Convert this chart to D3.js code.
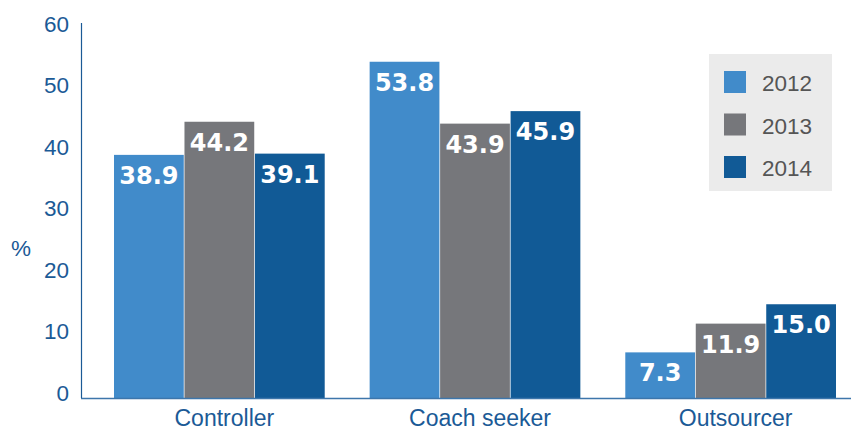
<!DOCTYPE html>
<html>
<head>
<meta charset="utf-8">
<script src="https://cdn.jsdelivr.net/npm/d3@7"></script>
<style>
  html, body { margin: 0; padding: 0; background: #fff; }
  svg { display: block; }
</style>
</head>
<body>
<svg id="chart" width="851" height="427"></svg>
<script>
// Share of respondents by profile type, per survey year (%)
const categories = ["Controller", "Coach seeker", "Outsourcer"];
const years = ["2012", "2013", "2014"];
const values2012 = [38.9, 53.8, 7.3];
const values2013 = [44.2, 43.9, 11.9];
const values2014 = [39.1, 45.9, 15.0];
const yTicks = [0, 10, 20, 30, 40, 50, 60];
const yLabel = "%";

const seriesValues = [values2012, values2013, values2014];
const colors = ["#418bca", "#76777b", "#115a96"];
const axisColor = "#1b5a96";

const svg = d3.select("#chart");

const x0 = 81, yTop = 23, yBase = 398;

const x = d3.scaleBand()
  .domain(categories)
  .range([114, 836])
  .paddingInner(45 / 256)
  .paddingOuter(0);

const xs = d3.scaleBand()
  .domain(years)
  .range([0, x.bandwidth()])
  .paddingInner(0.01);

const y = d3.scaleLinear().domain([0, 60]).range([yBase, yTop]);
// tick labels sit slightly above the gridline positions
const yText = d3.scaleLinear().domain([0, 60]).range([yBase - 6, yTop]);

// flatten into rows for drawing
const rows = [];
categories.forEach((c, i) => {
  years.forEach((yr, j) => {
    rows.push({ cat: c, year: yr, value: seriesValues[j][i], color: colors[j] });
  });
});

// bars
svg.append("g").selectAll("rect")
  .data(rows)
  .join("rect")
  .attr("x", d => x(d.cat) + xs(d.year))
  .attr("y", d => y(d.value))
  .attr("width", xs.bandwidth())
  .attr("height", d => y(0) - y(d.value))
  .attr("fill", d => d.color);

// value labels inside bar tops
svg.append("g").selectAll("text")
  .data(rows)
  .join("text")
  .attr("x", d => x(d.cat) + xs(d.year) + xs.bandwidth() / 2)
  .attr("y", d => y(d.value) + 29)
  .attr("text-anchor", "middle")
  .attr("fill", "#ffffff")
  .attr("font-family", "'DejaVu Sans', sans-serif")
  .attr("font-weight", "bold")
  .attr("font-size", 24)
  .text(d => d.value.toFixed(1));

// baseline
svg.append("line")
  .attr("x1", x0).attr("x2", 851)
  .attr("y1", yBase + 0.5).attr("y2", yBase + 0.5)
  .attr("stroke", "#3d76ab").attr("stroke-width", 1.5);

// vertical axis line
svg.append("line")
  .attr("x1", x0 + 0.5).attr("x2", x0 + 0.5)
  .attr("y1", yTop).attr("y2", yBase)
  .attr("stroke", axisColor).attr("stroke-width", 1.2);

// y tick labels
const yAxis = svg.append("g")
  .attr("transform", `translate(${x0 - 12},0)`)
  .call(d3.axisLeft(yText).tickValues(yTicks).tickSize(0).tickPadding(0).tickFormat(d3.format("d")));
yAxis.select(".domain").remove();
yAxis.selectAll("text")
  .attr("fill", axisColor)
  .attr("font-family", "'Liberation Sans', Arial, sans-serif")
  .attr("font-size", 22.5)
  .attr("dy", "0.36em");

// y axis title
svg.append("text")
  .attr("x", 21).attr("y", 256)
  .attr("text-anchor", "middle")
  .attr("fill", axisColor)
  .attr("font-family", "'Liberation Sans', Arial, sans-serif")
  .attr("font-size", 22.5)
  .text(yLabel);

// category labels
svg.append("g").selectAll("text")
  .data(categories)
  .join("text")
  .attr("x", d => x(d) + x.bandwidth() / 2 + 5)
  .attr("y", 426)
  .attr("text-anchor", "middle")
  .attr("fill", axisColor)
  .attr("font-family", "'Liberation Sans', Arial, sans-serif")
  .attr("font-size", 23)
  .text(d => d);

// legend
const legend = svg.append("g");
legend.append("rect")
  .attr("x", 709).attr("y", 54)
  .attr("width", 123).attr("height", 137)
  .attr("fill", "#ebebeb");
const items = legend.selectAll("g.item")
  .data(years)
  .join("g")
  .attr("class", "item")
  .attr("transform", (d, i) => `translate(724,${71 + i * 42.5})`);
items.append("rect")
  .attr("width", 22).attr("height", 22)
  .attr("fill", (d, i) => colors[i]);
items.append("text")
  .attr("x", 38).attr("y", 20)
  .attr("fill", "#555555")
  .attr("font-family", "'Liberation Sans', Arial, sans-serif")
  .attr("font-size", 22.5)
  .text(d => d);
</script>
</body>
</html>
